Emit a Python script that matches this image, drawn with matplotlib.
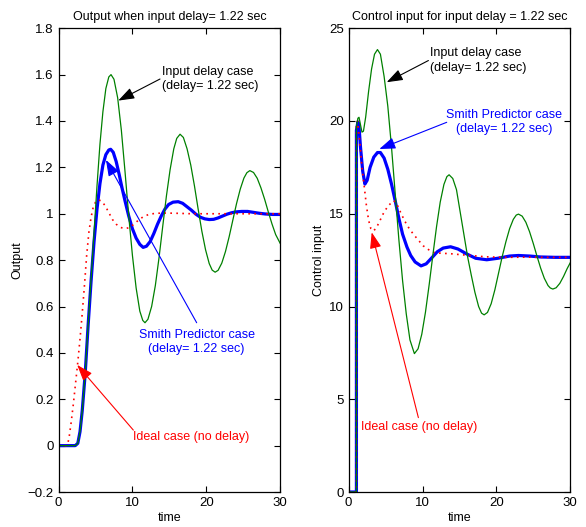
import matplotlib
matplotlib.use('Agg')
import matplotlib.pyplot as plt

plt.rcParams['font.family'] = ['Liberation Sans', 'DejaVu Sans']
plt.rcParams['font.size'] = 9

# ---- left panel: output ----
t_ideal_out = [0, 1.0, 1.2, 1.4, 1.7, 2.0, 2.3, 2.6, 2.9, 3.2, 3.5, 3.8, 4.1, 4.4, 4.7, 5.0, 5.4, 5.8,
               6.3, 6.8, 7.3, 7.8, 8.3, 8.8, 9.2, 9.7, 10.2, 10.8, 11.5, 12.3, 13.2, 14.5, 16, 18, 20, 25, 30]
y_ideal_out = [0, 0, 0.005, 0.03, 0.10, 0.18, 0.27, 0.36, 0.46, 0.57, 0.69, 0.82, 0.92, 0.985, 1.03, 1.05,
               1.06, 1.055, 1.035, 1.005, 0.975, 0.955, 0.942, 0.937, 0.937, 0.942, 0.955, 0.972, 0.988,
               0.998, 1.002, 1.003, 1.002, 1.0, 1.0, 1.0, 1.0]

t_delay_out = [0, 2.25, 2.6, 2.9, 3.2, 3.6, 4.0, 4.4, 4.8, 5.2, 5.6, 6.0, 6.4, 6.8, 7.1, 7.5, 8.0, 8.5, 9.0,
               9.5, 10.0, 10.5, 11.0, 11.4, 11.7, 12.1, 12.6, 13.1, 13.6, 14.1, 14.6, 15.1, 15.6, 16.0,
               16.45, 16.9, 17.4, 17.9, 18.4, 18.9, 19.4, 19.9, 20.4, 20.8, 21.2, 21.6, 22.1, 22.6, 23.1,
               23.6, 24.1, 24.6, 25.1, 25.5, 25.9, 26.4, 26.9, 27.4, 27.9, 28.4, 28.9, 29.4, 30]
y_delay_out = [0, 0, 0.01, 0.06, 0.15, 0.31, 0.52, 0.72, 0.92, 1.12, 1.30, 1.44, 1.54, 1.59, 1.60, 1.58,
               1.50, 1.36, 1.18, 0.99, 0.82, 0.68, 0.58, 0.54, 0.53, 0.545, 0.60, 0.69, 0.81, 0.945, 1.076,
               1.19, 1.28, 1.325, 1.343, 1.329, 1.28, 1.21, 1.12, 1.02, 0.925, 0.845, 0.785, 0.757, 0.748,
               0.756, 0.787, 0.837, 0.901, 0.973, 1.044, 1.106, 1.154, 1.177, 1.186, 1.178, 1.153, 1.112,
               1.063, 1.008, 0.956, 0.91, 0.873]

t_smith_out = [0, 2.25, 2.6, 2.9, 3.2, 3.6, 4.0, 4.4, 4.8, 5.2, 5.6, 6.0, 6.4, 6.8, 7.05, 7.4, 7.8, 8.2,
               8.6, 9.0, 9.5, 10.0, 10.5, 11.0, 11.45, 11.9, 12.4, 12.9, 13.4, 13.9, 14.4, 14.9, 15.5,
               16.2, 16.8, 17.4, 18.0, 18.6, 19.2, 19.8, 20.4, 21.0, 21.6, 22.2, 22.8, 23.4, 24.0, 24.8,
               25.6, 26.4, 27.2, 28.0, 29.0, 30]
y_smith_out = [0, 0, 0.01, 0.06, 0.15, 0.31, 0.52, 0.71, 0.88, 1.02, 1.13, 1.21, 1.255, 1.275, 1.278,
               1.265, 1.225, 1.17, 1.11, 1.055, 0.99, 0.935, 0.895, 0.868, 0.855, 0.86, 0.88, 0.915,
               0.955, 0.99, 1.02, 1.04, 1.05, 1.052, 1.045, 1.03, 1.015, 0.998, 0.985, 0.978, 0.975,
               0.976, 0.982, 0.99, 0.998, 1.004, 1.008, 1.01, 1.01, 1.006, 1.002, 0.999, 0.997, 0.997]

# ---- right panel: control input ----
t_ideal_u = [0, 1.05, 1.05, 1.2, 1.5, 1.8, 2.1, 2.4, 2.7, 3.0, 3.3, 3.7, 4.2, 4.8, 5.4, 6.1, 6.5, 7.0,
             7.6, 8.2, 8.8, 9.5, 10.1, 10.8, 11.5, 12.5, 13.7, 15.0, 16.5, 18.5, 21, 24, 27, 30]
y_ideal_u = [0, 0, 19.8, 20.0, 18.9, 17.5, 16.5, 15.45, 14.65, 14.2, 14.07, 14.2, 14.6, 15.1, 15.45,
             15.7, 15.55, 15.1, 14.6, 14.2, 13.88, 13.55, 13.27, 13.07, 12.92, 12.87, 12.85, 12.8,
             12.75, 12.68, 12.65, 12.66, 12.65, 12.65]

t_delay_u = [0, 1.05, 1.05, 1.25, 1.4, 1.6, 1.8, 2.0, 2.3, 2.7, 3.1, 3.5, 3.9, 4.3, 4.8, 5.3, 5.8, 6.3,
             6.8, 7.3, 7.8, 8.3, 8.9, 9.4, 9.9, 10.4, 10.9, 11.4, 11.9, 12.4, 12.9, 13.3, 13.6, 14.1,
             14.6, 15.1, 15.6, 16.1, 16.6, 17.1, 17.6, 18.0, 18.35, 18.8, 19.3, 19.8, 20.3, 20.8, 21.3,
             21.8, 22.3, 22.7, 23.0, 23.5, 24.0, 24.5, 25.0, 25.5, 26.0, 26.5, 27.0, 27.3, 27.65, 28.1,
             28.6, 29.1, 29.6, 30]
y_delay_u = [0, 0, 19.7, 20.15, 20.2, 19.8, 19.4, 19.45, 20.2, 21.6, 22.8, 23.6, 23.85, 23.6, 22.4,
             20.8, 18.6, 16.1, 13.6, 11.4, 9.6, 8.2, 7.46, 7.72, 8.5, 9.69, 11.17, 12.76, 14.3, 15.63,
             16.58, 17.0, 17.1, 16.9, 16.3, 15.1, 13.9, 12.7, 11.7, 10.76, 10.0, 9.64, 9.55, 9.68,
             10.15, 10.9, 11.8, 12.7, 13.5, 14.2, 14.7, 14.93, 14.98, 14.87, 14.54, 14.03, 13.4,
             12.72, 12.07, 11.52, 11.13, 11.0, 10.94, 11.01, 11.25, 11.62, 12.05, 12.35]

t_smith_u = [0, 1.05, 1.05, 1.25, 1.4, 1.6, 1.9, 2.2, 2.5, 2.9, 3.4, 3.9, 4.3, 4.8, 5.3, 5.8, 6.3, 6.8,
             7.3, 7.9, 8.4, 9.0, 9.8, 10.5, 11.2, 12.0, 12.8, 13.8, 14.8, 16.0, 17.2, 18.7, 20.2, 21.8,
             23.0, 24.5, 26.0, 28.0, 30]
y_smith_u = [0, 0, 19.5, 19.95, 19.7, 18.6, 17.3, 16.6, 16.8, 17.5, 18.05, 18.3, 18.3, 18.0, 17.4,
             16.6, 15.7, 14.75, 13.9, 13.2, 12.75, 12.4, 12.19, 12.3, 12.6, 12.95, 13.15, 13.22, 13.1,
             12.83, 12.6, 12.52, 12.6, 12.72, 12.75, 12.72, 12.67, 12.65, 12.65]

GREEN = '#008000'
BLUE = '#0000ff'
RED = '#ff0000'

fig = plt.figure(figsize=(5.86, 5.27), dpi=100)
ax1 = fig.add_axes([0.100, 0.0664, 0.378, 0.880])
ax2 = fig.add_axes([0.595, 0.0664, 0.378, 0.880])


def draw(ax, ti, yi, td, yd, ts, ys):
    ax.plot(ts, ys, color=BLUE, lw=2.3)
    ax.plot(ti, yi, color=RED, lw=1.2, linestyle=(0, (1, 2.6)))
    ax.plot(td, yd, color=GREEN, lw=0.9)
    ax.set_xlim(0, 30)
    ax.set_xticks([0, 10, 20, 30])
    ax.tick_params(direction='in', top=True, right=True, length=4, width=0.8, labelsize=9.5)
    for s in ax.spines.values():
        s.set_linewidth(0.9)
    ax.set_xlabel('time', labelpad=2)


def note(ax, text, xy, xytext, color, txt_pos, ha):
    ax.annotate('', xy=xy, xytext=xytext,
                arrowprops=dict(arrowstyle='-|>,head_length=0.7,head_width=0.25',
                                color=color, lw=0.8, shrinkA=0, shrinkB=0,
                                mutation_scale=14))
    ax.text(txt_pos[0], txt_pos[1], text, color=color, ha=ha, va='center',
            multialignment=ha, fontsize=9, linespacing=1.25)


draw(ax1, t_ideal_out, y_ideal_out, t_delay_out, y_delay_out, t_smith_out, y_smith_out)
ax1.set_ylim(-0.2, 1.8)
ax1.set_yticks([-0.2, 0, 0.2, 0.4, 0.6, 0.8, 1, 1.2, 1.4, 1.6, 1.8])
ax1.set_yticklabels(['\u22120.2', '0', '0.2', '0.4', '0.6', '0.8', '1', '1.2', '1.4', '1.6', '1.8'])
ax1.set_ylabel('Output', labelpad=3)
ax1.set_title('Output when input delay= 1.22 sec', fontsize=9, pad=6)
note(ax1, 'Input delay case\n(delay= 1.22 sec)', (8.08, 1.488), (13.73, 1.581), 'black', (14.0, 1.581), 'left')
note(ax1, 'Smith Predictor case\n(delay= 1.22 sec)', (6.41, 1.232), (18.7, 0.530), BLUE, (18.7, 0.447), 'center')
note(ax1, 'Ideal case (no delay)', (2.52, 0.348), (10.12, 0.067), RED, (10.12, 0.039), 'left')

draw(ax2, t_ideal_u, y_ideal_u, t_delay_u, y_delay_u, t_smith_u, y_smith_u)
ax2.set_ylim(0, 25)
ax2.set_yticks([0, 5, 10, 15, 20, 25])
ax2.set_ylabel('Control input', labelpad=3)
ax2.set_title('Control input for input delay = 1.22 sec', fontsize=9, pad=6)
note(ax2, 'Input delay case\n(delay= 1.22 sec)', (5.15, 22.09), (10.8, 23.26), 'black', (11.02, 23.26), 'left')
note(ax2, 'Smith Predictor case\n(delay= 1.22 sec)', (4.15, 18.49), (13.28, 19.93), BLUE, (21.01, 19.93), 'center')
note(ax2, 'Ideal case (no delay)', (3.12, 14.0), (9.44, 4.01), RED, (1.63, 3.52), 'left')

fig.savefig('out.png', dpi=100)
